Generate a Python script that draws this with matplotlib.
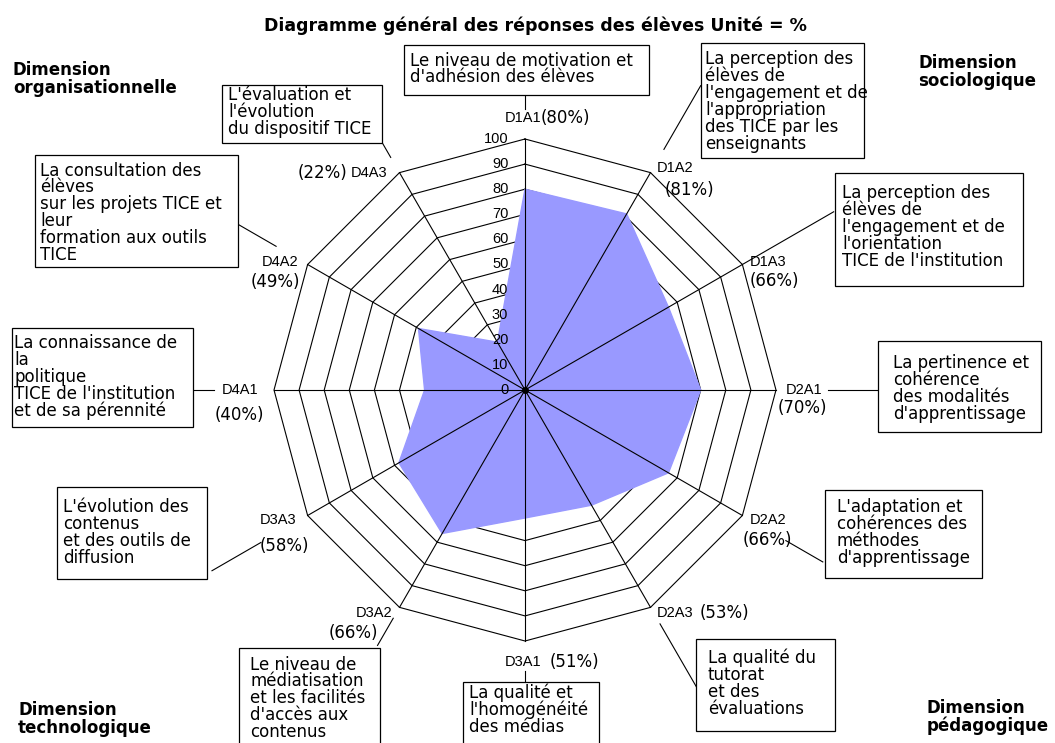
import numpy as np
import matplotlib.pyplot as plt
from matplotlib.patches import Rectangle

codes = ["D1A1", "D1A2", "D1A3", "D2A1", "D2A2", "D2A3",
         "D3A1", "D3A2", "D3A3", "D4A1", "D4A2", "D4A3"]
scores = [80, 81, 66, 70, 66, 53, 51, 66, 58, 40, 49, 22]  # %
descriptions = [
    "Le niveau de motivation et\nd'adhésion des élèves",
    "La perception des\nélèves de\nl'engagement et de\nl'appropriation\ndes TICE par les\nenseignants",
    "La perception des\nélèves de\nl'engagement et de\nl'orientation\nTICE de l'institution",
    "La pertinence et\ncohérence\ndes modalités\nd'apprentissage",
    "L'adaptation et\ncohérences des\nméthodes\nd'apprentissage",
    "La qualité du\ntutorat\net des\névaluations",
    "La qualité et\nl'homogénéité\ndes médias",
    "Le niveau de\nmédiatisation\net les facilités\nd'accès aux\ncontenus",
    "L'évolution des\ncontenus\net des outils de\ndiffusion",
    "La connaissance de\nla\npolitique\nTICE de l'institution\net de sa pérennité",
    "La consultation des\nélèves\nsur les projets TICE et\nleur\nformation aux outils\nTICE",
    "L'évaluation et\nl'évolution\ndu dispositif TICE",
]
levels = list(range(0, 101, 10))
dimensions = ["Dimension\norganisationnelle", "Dimension\nsociologique",
              "Dimension\ntechnologique", "Dimension\npédagogique"]
title = "Diagramme général des réponses des élèves Unité = %"

# ---- layout (pixels, y down) ----
W, H = 1055, 743
cx, cy, R = 525, 390, 251
boxes = [(404, 45, 649, 95), (701, 43, 864, 158), (835, 173, 1023, 286),
         (878, 341, 1041, 432), (825, 490, 982, 578), (696, 639, 835, 731),
         (463, 682, 599, 752), (239, 648, 380, 752), (57, 487, 207, 579),
         (12, 328, 193, 427), (35, 155, 238, 267), (222, 85, 382, 143)]
box_text = [(410, 60), (705, 59), (842, 193), (893, 363), (837, 507), (708, 657),
            (469, 692), (250, 664), (63, 507), (14, 343), (40, 170), (228, 95)]
leaders = [(112, 117.5), (110.7, 140), (100, 142), (120.7, 141.4), (120, 137),
           (107.6, 138.7), (112, 116.3), (105, 117.5), (121.5, 144), (124, 132.7),
           (114.5, 132), (107, 114.5)]
code_pos = [(505, 118, "left"), (657, 168, "left"), (750, 262, "left"), (786, 390, "left"),
            (750, 520, "left"), (657, 613, "left"), (505, 662, "left"), (392, 613, "right"),
            (260, 520, "left"), (222, 390, "left"), (298, 262, "right"), (387, 173, "right")]
pct_pos = [(541, 118, "left"), (665, 190, "left"), (750, 281, "left"), (778, 408, "left"),
           (743, 540, "left"), (700, 613, "left"), (550, 662, "left"), (378, 633, "right"),
           (260, 546, "left"), (215, 415, "left"), (300, 282, "right"), (347, 173, "right")]
dim_pos = [(13, 79), (918, 72), (18, 719), (927, 717)]

fill_color = "#9999ff"
small_font = "Liberation Sans"
text_size = 12

fig = plt.figure(figsize=(W / 100, H / 100), dpi=100)

# radar
ax = fig.add_axes([(cx - R) / W, (H - cy - R) / H, 2 * R / W, 2 * R / H], projection="polar")
ax.set_theta_zero_location("N")
ax.set_theta_direction(-1)
ax.set_ylim(0, 100)
ax.axis("off")

theta = np.arange(len(codes)) * 2 * np.pi / len(codes)
closed = np.append(theta, theta[0])
for lv in levels[1:]:
    ax.plot(closed, [lv] * len(closed), color="black", lw=0.8, zorder=1, clip_on=False)
ax.fill(theta, scores, color=fill_color, zorder=2, clip_on=False)
for t in theta:
    ax.plot([t, t], [0, 100], color="black", lw=0.8, zorder=3, clip_on=False)
ax.plot([0], [0], "o", color="black", ms=4, zorder=4)
for t, (r1, r2) in zip(theta, leaders):
    ax.plot([t, t], [r1, r2], color="black", lw=0.8, clip_on=False)
for lv in levels:
    ax.annotate(str(lv), xy=(0, lv), xytext=(-12, 0), textcoords="offset points",
                ha="right", va="center", fontsize=10.5, family=small_font, zorder=5)

# texts and boxes
lay = fig.add_axes([0, 0, 1, 1])
lay.set_xlim(0, W)
lay.set_ylim(H, 0)
lay.axis("off")

lay.text(535, 26, title, ha="center", va="center", fontsize=12.5, fontweight="bold")
for (x, y), s in zip(dim_pos, dimensions):
    lay.text(x, y, s, ha="left", va="center", fontsize=12, fontweight="bold", linespacing=1.0)

for (x0, y0, x1, y1), (tx, ty), s in zip(boxes, box_text, descriptions):
    lay.add_patch(Rectangle((x0, y0), x1 - x0, y1 - y0, fc="white", ec="black", lw=0.9, clip_on=False))
    lay.text(tx, ty - 8.5, s, ha="left", va="top", fontsize=text_size, linespacing=0.92, clip_on=False)

for c, v, (x, y, ha), (px, py, pha) in zip(codes, scores, code_pos, pct_pos):
    lay.text(x, y, c, ha=ha, va="center", fontsize=10.5, family=small_font)
    lay.text(px, py, f"({v}%)", ha=pha, va="center", fontsize=text_size)

fig.savefig("out.png", dpi=100)
